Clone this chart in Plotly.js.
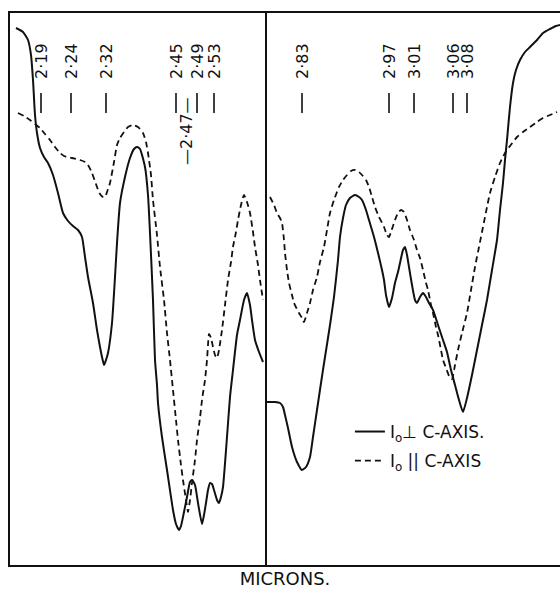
<!DOCTYPE html>
<html>
<head>
<meta charset="utf-8">
<script src="https://cdn.plot.ly/plotly-3.0.1.min.js"></script>
<style>html,body{margin:0;padding:0;background:#fff;}#chart{width:560px;height:595px;}</style>
</head>
<body>
<div id="chart"></div>
<script>
// Spectrometer scale position (x) and relative transmission (y)
const leftPerpX = [16,23,28,31,33,35,37,40,44,48,53,58,63,68,73,78,82,85,88,93,97,100,102,104,106,108,112,115,117,120,125,130,134,137,140,145,148,150,153,155,157,158,162,167,173,176,179,181,183,187,190,192,195,198,202,204,206,208,210,212,214,217,219,221,223,227,230,233,237,240,244,247,250,252,255,259,263];
const leftPerpY = [537,533,525,510,485,450,432,417,408,402,390,372,352,344,339,335,328,308,288,262,235,218,208,200,205,212,242,288,322,362,388,407,416,418,416,398,370,332,265,205,180,162,128,95,55,41,35,39,48,68,83,85,80,62,41,50,62,75,82,81,75,65,62,68,78,128,168,195,230,245,265,272,260,245,225,213,203];

const leftParX = [18,24,30,35,40,45,50,55,60,64,67,72,80,85,88,92,97,100,103,105,107,110,114,117,120,124,128,133,138,143,146,148,151,153,157,160,164,167,170,173,176,178,181,183,186,188,190,192,195,197,200,202,205,207,208,209,211,213,215,217,219,222,225,228,231,233,236,238,241,244,247,250,253,255,258,260,263];
const leftParY = [452,449,445,441,437,431,425,418,412,409,408,407,405,403,400,392,378,371,368,368,373,382,403,420,427,433,438,440,438,432,423,412,390,365,330,298,265,232,205,175,145,125,100,85,65,53,65,82,105,125,147,165,185,205,220,231,227,218,210,207,215,235,260,285,303,318,333,345,360,370,363,352,333,318,300,285,265];

const rightPerpX = [266,275,280,283,285,288,292,297,302,306,310,313,317,321,325,330,334,338,340,343,346,350,355,359,362,366,369,374,379,382,384,386,389,392,395,398,400,403,405,407,409,412,415,417,420,423,426,429,433,438,443,447,451,455,459,463,467,472,477,482,487,492,497,500,503,505,507,510,513,516,520,525,530,537,543,550,556,560];
const rightPerpY = [163,163,162,158,150,137,118,103,95,98,108,128,155,182,208,240,268,305,328,347,360,367,370,368,365,355,345,328,308,295,285,270,258,267,282,293,302,315,318,310,298,280,265,262,268,272,268,262,255,240,225,213,195,180,165,153,167,190,215,240,265,295,325,355,382,405,425,458,482,495,505,513,518,525,532,536,539,540];

const rightParX = [270,274,277,280,282,284,285,287,289,292,294,299,302,304,307,310,313,317,320,324,327,330,334,339,343,347,351,355,359,362,366,369,372,375,379,384,387,389,391,395,398,401,404,407,410,414,417,420,423,426,428,431,433,436,438,441,443,446,450,452,455,458,462,467,471,475,479,483,487,490,495,500,505,510,517,523,530,537,543,550,557];
const rightParY = [368,360,352,347,342,325,312,295,282,270,262,252,247,243,252,262,275,288,303,318,335,352,365,378,385,390,394,395,393,390,385,378,368,358,348,338,330,328,333,345,352,355,353,345,335,325,315,307,295,282,275,260,252,238,230,215,205,197,187,186,200,215,232,252,275,298,318,338,358,372,388,402,412,419,428,433,438,443,447,450,453];

// Wavelength markers (microns)
const markPos = [41,71,106,176,197,214,302,389,414,453,467];
const markLabel = ['2·19','2·24','2·32','2·45','2·49','2·53','2·83','2·97','3·01','3·06','3·08'];
const lowMarkPos = [186];
const lowMarkLabel = ['—2·47—'];

const seriesNames = ['I<sub>o</sub>⊥ C-AXIS.', 'I<sub>o</sub> || C-AXIS'];
const xTitle = 'MICRONS.';
const dividerPos = 266;

const FONT = 'DejaVu Sans, sans-serif';
const tickTop = 472, tickBottom = 452, labelY = 504, lowLabelY = 434;

const tx = [], ty = [];
markPos.forEach(p => { tx.push(p, p, null); ty.push(tickTop, tickBottom, null); });

const traces = [
  {x: leftPerpX.concat([null], rightPerpX), y: leftPerpY.concat([null], rightPerpY),
   mode: 'lines', name: seriesNames[0], legendgroup: 'a',
   line: {color: '#111', width: 2, shape: 'spline', smoothing: 0.5}, hoverinfo: 'skip'},
  {x: leftParX.concat([null], rightParX), y: leftParY.concat([null], rightParY),
   mode: 'lines', name: seriesNames[1], legendgroup: 'b',
   line: {color: '#111', width: 1.8, dash: '6px,4px', shape: 'spline', smoothing: 0.5}, hoverinfo: 'skip'},
  {x: tx, y: ty, mode: 'lines', showlegend: false, line: {color: '#111', width: 1.6}, hoverinfo: 'skip'}
];

const annotations = markPos.map((p, i) => ({
  x: p, y: labelY, xref: 'x', yref: 'y', text: markLabel[i], showarrow: false,
  textangle: -90, xanchor: 'center', yanchor: 'middle',
  font: {family: FONT, size: 16, color: '#111'}
})).concat(lowMarkPos.map((p, i) => ({
  x: p, y: lowLabelY, xref: 'x', yref: 'y', text: lowMarkLabel[i], showarrow: false,
  textangle: -90, xanchor: 'center', yanchor: 'middle',
  font: {family: FONT, size: 16, color: '#111'}
})));

const layout = {
  width: 560, height: 595,
  margin: {l: 10, r: 0, t: 13, b: 30},
  paper_bgcolor: '#fff', plot_bgcolor: '#fff',
  showlegend: true,
  legend: {x: 0.618, y: 0.2736, xanchor: 'left', yanchor: 'top', bgcolor: 'rgba(0,0,0,0)',
           font: {family: FONT, size: 17, color: '#111'}, tracegroupgap: 4, itemwidth: 30},
  xaxis: {range: [10, 560], showgrid: false, zeroline: false, showticklabels: false, ticks: '',
          showline: true, mirror: true, linecolor: '#111', linewidth: 2,
          title: {text: xTitle, font: {family: FONT, size: 18, color: '#111'}, standoff: 6}},
  yaxis: {range: [0, 552], showgrid: false, zeroline: false, showticklabels: false, ticks: '',
          showline: true, mirror: false, linecolor: '#111', linewidth: 2},
  shapes: [{type: 'line', xref: 'x', yref: 'paper', x0: dividerPos, x1: dividerPos, y0: 0, y1: 1,
            line: {color: '#111', width: 2}}],
  annotations: annotations
};

Plotly.newPlot('chart', traces, layout, {displayModeBar: false, staticPlot: true});
</script>
</body>
</html>
